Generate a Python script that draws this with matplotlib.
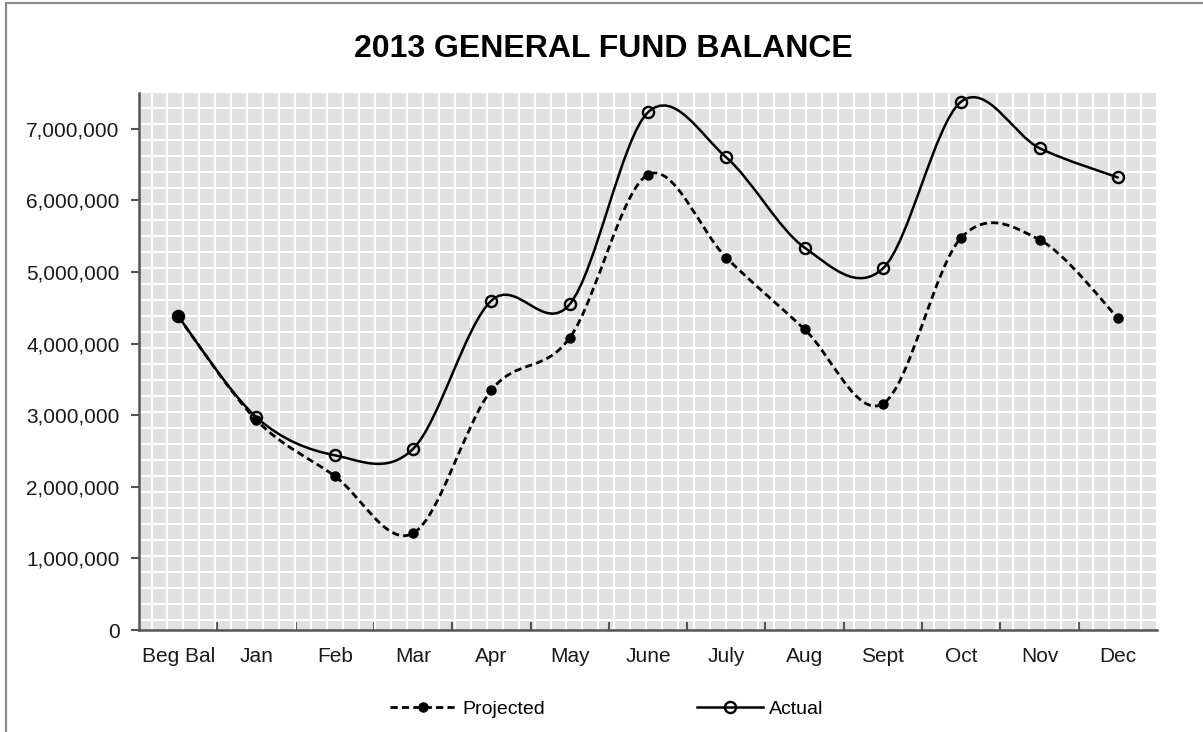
import numpy as np
import matplotlib
matplotlib.use("Agg")
import matplotlib.pyplot as plt
from matplotlib.path import Path
from matplotlib.patches import PathPatch, Rectangle
from matplotlib.lines import Line2D
from matplotlib.ticker import FuncFormatter, FixedLocator

categories = ["Beg Bal", "Jan", "Feb", "Mar", "Apr", "May", "June", "July",
              "Aug", "Sept", "Oct", "Nov", "Dec"]
projected = [4380000, 2930000, 2150000, 1350000, 3350000, 4080000, 6360000,
             5200000, 4200000, 3160000, 5480000, 5450000, 4360000]
actual = [4380000, 2970000, 2440000, 2530000, 4600000, 4550000, 7230000,
          6600000, 5340000, 5050000, 7380000, 6730000, 6320000]
y_ticks = [0, 1000000, 2000000, 3000000, 4000000, 5000000, 6000000, 7000000]
title = "2013 GENERAL FUND BALANCE"

plt.rcParams['font.family'] = ['Liberation Sans', 'DejaVu Sans']

W, H = 1203, 732
fig = plt.figure(figsize=(W / 100, H / 100), dpi=100)
ax = fig.add_axes([139 / W, 1 - 630 / H, (1157 - 139) / W, (630 - 93) / H])
ax.set_facecolor('#e1e1e1')

# figure border (top & left visible)
fig.patches.append(Rectangle((5.5 / W, -0.2), 1.2, 0.2 + 1 - 2.5 / H,
                             transform=fig.transFigure, fill=False,
                             edgecolor='#8c8c8c', lw=1.6, clip_on=False))

def smooth_path(xs, ys):
    pts = np.column_stack([xs, ys]).astype(float)
    n = len(pts)
    verts = [tuple(pts[0])]
    codes = [Path.MOVETO]
    for i in range(n - 1):
        p0 = pts[max(i - 1, 0)]
        p1 = pts[i]
        p2 = pts[i + 1]
        p3 = pts[min(i + 2, n - 1)]
        c1 = p1 + (p2 - p0) / 6.0
        c2 = p2 - (p3 - p1) / 6.0
        verts += [tuple(c1), tuple(c2), tuple(p2)]
        codes += [Path.CURVE4] * 3
    return Path(verts, codes)

x = np.arange(len(categories))
dash = (0, (2.6, 1.5))

ax.add_patch(PathPatch(smooth_path(x, actual), fill=False, edgecolor='black',
                       lw=1.8, zorder=3, capstyle='round'))
ax.add_patch(PathPatch(smooth_path(x, projected), fill=False, edgecolor='black',
                       lw=2.0, linestyle=dash, zorder=3))
ax.plot(x, actual, linestyle='none', marker='o', ms=8, mfc='none',
        mec='black', mew=1.7, zorder=4)
ax.plot(x, projected, linestyle='none', marker='o', ms=6.5, mfc='black',
        mec='black', zorder=5)

ax.set_xlim(-0.5, len(categories) - 0.5)
ax.set_ylim(0, 7500000)

# decorative pattern grid
xg = np.arange(-0.34, len(categories) - 0.5, 0.2038)
yg = np.arange(144000, 7500000, 223200)
ax.xaxis.set_minor_locator(FixedLocator(xg))
ax.yaxis.set_minor_locator(FixedLocator(yg))
ax.grid(which='minor', color='white', lw=1.6)
ax.set_axisbelow(True)
ax.tick_params(which='minor', length=0)

ax.set_xticks(x)
ax.set_xticklabels(categories)
ax.xaxis.set_major_locator(FixedLocator(x))
ax.set_yticks(y_ticks)
ax.yaxis.set_major_formatter(FuncFormatter(lambda v, p: f"{v:,.0f}"))

# x: tick marks between categories, labels centered
ax.tick_params(axis='x', which='major', length=0, labelsize=15, pad=12,
               labelcolor='#1a1a1a')
sec = ax.secondary_xaxis('bottom')
sec.set_xticks(np.arange(0.5, len(categories) - 0.5, 1.0))
sec.tick_params(direction='in', length=6, width=1.5, color='#555555',
                labelbottom=False)
sec.spines['bottom'].set_visible(False)

ax.tick_params(axis='y', which='major', length=6, width=1.5, color='#555555',
               labelsize=15, pad=8, labelcolor='#1a1a1a')

for s in ['top', 'right']:
    ax.spines[s].set_visible(False)
for s in ['left', 'bottom']:
    ax.spines[s].set_color('#555555')
    ax.spines[s].set_linewidth(1.8)

fig.text(603 / W, 1 - 49 / H, title, ha='center', va='center',
         fontsize=23, fontweight='bold', color='black')

h1 = Line2D([], [], color='black', lw=2.0, linestyle=dash, marker='o', ms=6.5,
            mfc='black')
h2 = Line2D([], [], color='black', lw=1.8, marker='o', ms=8, mfc='none',
            mew=1.7)
leg = fig.legend([h1, h2], ["Projected", "Actual"], ncol=2, frameon=False,
                 loc='center', bbox_to_anchor=(606.5 / W, 1 - 709 / H),
                 fontsize=14, handlelength=3.4, handletextpad=0.3,
                 columnspacing=7.8, borderpad=0)

fig.savefig('out.png', dpi=100)
